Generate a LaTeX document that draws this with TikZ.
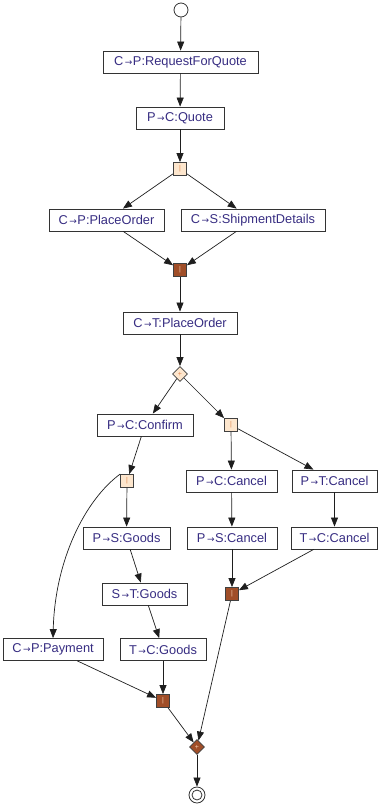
\documentclass[tikz,border=0pt]{standalone}
\usepackage{fontspec}
\setmainfont{Liberation Sans}
\newfontfamily\arrowfont{DejaVu Sans}
\usetikzlibrary{arrows.meta,shapes.geometric}
\definecolor{msgtext}{RGB}{55,45,130}
\definecolor{lightgate}{RGB}{253,230,205}
\definecolor{lightmark}{RGB}{225,135,80}
\definecolor{darkgate}{RGB}{160,78,40}
\definecolor{darkmark}{RGB}{245,205,175}
\definecolor{edgegray}{RGB}{30,30,30}
\tikzset{
  x=1pt, y=-1pt,
  msg/.style={draw=black!80, line width=0.8pt, fill=white, text=msgtext,
    minimum height=22pt, inner xsep=2pt, inner ysep=0pt,
    font=\fontsize{12.8}{14}\selectfont},
  gatebase/.style={draw=black!75, line width=0.8pt, minimum size=13pt, inner sep=0pt,
    font=\fontsize{7}{8}\selectfont},
  andlight/.style={gatebase, rectangle, fill=lightgate, text=lightmark, node contents={|}},
  anddark/.style={gatebase, rectangle, fill=darkgate, text=darkmark, node contents={|}},
  xorlight/.style={gatebase, diamond, minimum size=15pt, fill=lightgate, text=lightmark, node contents={+}},
  xordark/.style={gatebase, diamond, minimum size=15pt, fill=darkgate, text=darkmark, node contents={+}},
  flow/.style={draw=edgegray, line width=0.7pt, -{Triangle[length=9pt,width=7pt]}},
}
\newcommand{\ar}{\hspace{1.5pt}{\arrowfont\fontsize{9}{9}\selectfont →}\hspace{0.5pt}}
\begin{document}
\begin{tikzpicture}
\useasboundingbox (0,0) rectangle (378,806);
% start and end events
\node[circle, draw=black!80, line width=0.8pt, fill=white, minimum size=14pt, inner sep=0pt] (start) at (181,10) {};
\node[circle, draw=black!80, line width=0.8pt, fill=white, minimum size=16pt, inner sep=0pt] (endo) at (197,795) {};
\node[circle, draw=black!80, line width=0.8pt, minimum size=10pt, inner sep=0pt] (endi) at (197,795) {};

% message boxes
\node[msg, minimum width=155pt] (rfq) at (180.5,62) {C\ar P:RequestForQuote};
\node[msg, minimum width=88pt] (quote) at (180,118) {P\ar C:Quote};
\node[msg, minimum width=115pt] (cpord) at (106.5,220) {C\ar P:PlaceOrder};
\node[msg, minimum width=144pt] (ship) at (253,220) {C\ar S:ShipmentDetails};
\node[msg, minimum width=114pt] (ctord) at (180,323) {C\ar T:PlaceOrder};
\node[msg, minimum width=96pt] (conf) at (145,425) {P\ar C:Confirm};
\node[msg, minimum width=91pt] (pccan) at (231.5,481) {P\ar C:Cancel};
\node[msg, minimum width=85pt] (ptcan) at (334.5,481) {P\ar T:Cancel};
\node[msg, minimum width=87pt] (psgood) at (126.5,538) {P\ar S:Goods};
\node[msg, minimum width=90pt] (pscan) at (232,538) {P\ar S:Cancel};
\node[msg, minimum width=86pt] (tccan) at (334.5,538) {T\ar C:Cancel};
\node[msg, minimum width=85pt] (stgood) at (144.5,594) {S\ar T:Goods};
\node[msg, minimum width=100pt] (pay) at (53,649.5) {C\ar P:Payment};
\node[msg, minimum width=86pt] (tcgood) at (163,649.5) {T\ar C:Goods};

% gateways
\node (f1) at (180,169) [andlight];
\node (j1) at (180,270) [anddark];
\node (x1) at (180,374) [xorlight];
\node (f2) at (231,425) [andlight];
\node (f3) at (127,481) [andlight];
\node (j2) at (232,594) [anddark];
\node (j3) at (163,701) [anddark];
\node (x2) at (197,747) [xordark];

% flows
\draw[flow] (start) -- (rfq);
\draw[flow] (rfq) -- (quote);
\draw[flow] (quote) -- (f1);
\draw[flow] (f1) -- (cpord);
\draw[flow] (f1) -- (ship);
\draw[flow] (cpord) -- (j1);
\draw[flow] (ship) -- (j1);
\draw[flow] (j1) -- (ctord);
\draw[flow] (ctord) -- (x1);
\draw[flow] (x1) -- (conf);
\draw[flow] (x1) -- (f2);
\draw[flow] (conf) -- (f3);
\draw[flow] (f3) -- (psgood);
\draw[flow] (f3.north west) .. controls (85,500) and (55,560) .. (pay.north);
\draw[flow] (psgood) -- (stgood);
\draw[flow] (stgood) -- (tcgood);
\draw[flow] (tcgood) -- (j3);
\draw[flow] (pay) -- (j3);
\draw[flow] (f2) -- (pccan);
\draw[flow] (f2) -- (ptcan);
\draw[flow] (pccan) -- (pscan);
\draw[flow] (ptcan) -- (tccan);
\draw[flow] (pscan) -- (j2);
\draw[flow] (tccan) -- (j2);
\draw[flow] (j2) -- (x2);
\draw[flow] (j3) -- (x2);
\draw[flow] (x2) -- (endo);
\end{tikzpicture}
\end{document}
